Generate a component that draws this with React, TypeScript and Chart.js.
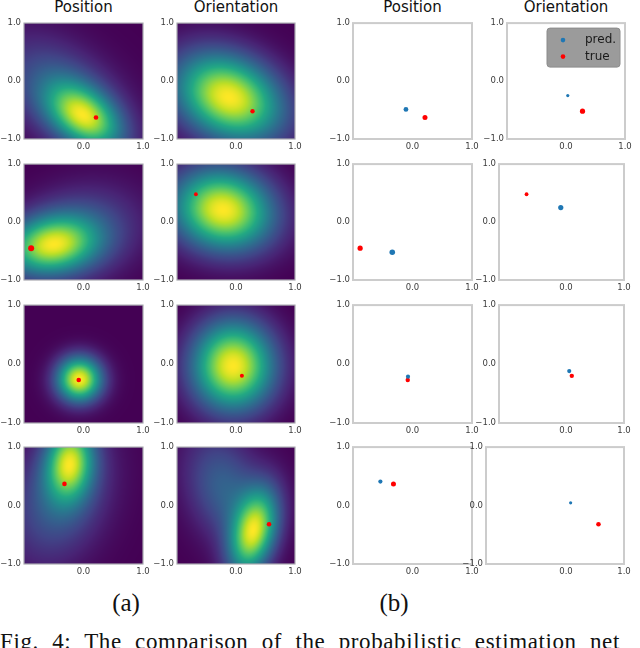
import React, { useEffect, useRef } from "react";
import { Chart, registerables } from "chart.js";
Chart.register(...registerables);

// ---------- data ----------
const COLUMN_TITLES = ["Position", "Orientation", "Position", "Orientation"];
const SUB_CAPTIONS = ["(a)", "(b)"];
const FIG_CAPTION = "Fig. 4: The comparison of the probabilistic estimation net";
const LEGEND_LABELS = ["pred.", "true"];
const TICK_VALUES = [-1, 0, 1];

// ground truth per row (position / orientation)
const TRUE_POS_X = [0.21, -0.88, -0.08, -0.32];
const TRUE_POS_Y = [-0.63, -0.45, -0.27, 0.37];
const TRUE_ORI_X = [0.28, -0.68, 0.1, 0.56];
const TRUE_ORI_Y = [-0.52, 0.48, -0.2, -0.32];
// predictions per row
const PRED_POS_X = [-0.11, -0.34, -0.076, -0.54];
const PRED_POS_Y = [-0.49, -0.52, -0.215, 0.41];
const PRED_ORI_X = [0.03, -0.09, 0.056, 0.08];
const PRED_ORI_Y = [-0.25, 0.25, -0.12, 0.046];

// predicted densities: mixture components [meanX, meanY, sdX, sdY, rho, weight]
const POS_DENSITY: number[][][] = [
  [[0.02, -0.62, 0.42, 0.38, -0.4, 1], [-0.35, -0.2, 0.7, 0.65, -0.45, 0.4]],
  [[-0.56, -0.4, 0.52, 0.34, 0.15, 1], [-0.1, -0.2, 0.7, 0.55, 0.2, 0.35]],
  [[-0.07, -0.26, 0.26, 0.26, 0, 1]],
  [[-0.23, 0.75, 0.27, 0.44, 0.1, 1], [-0.4, 0.15, 0.55, 0.75, 0.25, 0.4]],
];
const ORI_DENSITY: number[][][] = [
  [[-0.12, -0.28, 0.62, 0.52, -0.25, 1]],
  [[-0.22, 0.21, 0.58, 0.48, -0.1, 1]],
  [[-0.05, -0.03, 0.48, 0.52, 0, 1]],
  [[0.3, -0.45, 0.28, 0.5, 0.35, 1], [-0.2, 0.3, 0.45, 0.65, -0.25, 0.35]],
];

// ---------- layout / style ----------
const ROW_TOP = [22, 163, 304, 446];
const ROW_BOTTOM = [139, 280, 423, 564];
const COL_LEFT = [24, 177, 353];
const COL_RIGHT = [143, 295, 472];
const COL4_LEFT = [507, 499, 499, 486];
const COL4_RIGHT = [625, 624, 624, 624];
const COL4_XMIN = [-1, -1.155, -1.155, -1.379];
const PRED_R = [[2.4, 1.6], [2.8, 2.6], [2.1, 2.1], [2.1, 1.6]];
const TRUE_R = [[2.5, 2.6], [2.6, 1.9], [2.2, 2.2], [2.5, 2.3]];
const HEAT_TRUE_R = [[2.3, 2.2], [3.0, 1.9], [2.3, 2.0], [2.3, 2.3]];

const ML = 30, MB = 14, MT = 7, MR = 10;
const BLUE = "#1f77b4";
const RED = "#ff0000";
const VIRIDIS = ["#440154", "#482475", "#414487", "#355f8d", "#2a788e", "#21918c", "#22a884", "#44bf70", "#7ad151", "#bddf26", "#fde725"];
const VIR_RGB = VIRIDIS.map((h) => [parseInt(h.slice(1, 3), 16), parseInt(h.slice(3, 5), 16), parseInt(h.slice(5, 7), 16)]);

function viridis(t: number) {
  const c = Math.max(0, Math.min(1, t)) * (VIR_RGB.length - 1);
  const i = Math.min(VIR_RGB.length - 2, Math.floor(c));
  const f = c - i;
  const a = VIR_RGB[i], b = VIR_RGB[i + 1];
  return [a[0] + (b[0] - a[0]) * f, a[1] + (b[1] - a[1]) * f, a[2] + (b[2] - a[2]) * f];
}

function density(comps: number[][], x: number, y: number) {
  let s = 0;
  for (const [mx, my, sx, sy, r, w] of comps) {
    const u = (x - mx) / sx, v = (y - my) / sy;
    const q = (u * u + v * v - 2 * r * u * v) / (1 - r * r);
    s += w * Math.exp(-0.5 * q);
  }
  return s;
}

const fmt = (v: number) => (v < 0 ? "\u2212" : "") + Math.abs(v).toFixed(1);

type PanelSpec = { row: number; col: number };

function Panel({ row, col }: PanelSpec) {
  const ref = useRef<HTMLCanvasElement>(null);
  const left = col < 3 ? COL_LEFT[col] : COL4_LEFT[row];
  const right = col < 3 ? COL_RIGHT[col] : COL4_RIGHT[row];
  const top = ROW_TOP[row];
  const bottom = ROW_BOTTOM[row];
  const W = right - left + ML + MR;
  const H = bottom - top + MT + MB;
  const isHeat = col < 2;
  const isPos = col % 2 === 0;

  useEffect(() => {
    const xmin = col === 3 ? COL4_XMIN[row] : -1;
    const trueX = isPos ? TRUE_POS_X[row] : TRUE_ORI_X[row];
    const trueY = isPos ? TRUE_POS_Y[row] : TRUE_ORI_Y[row];
    const predX = isPos ? PRED_POS_X[row] : PRED_ORI_X[row];
    const predY = isPos ? PRED_POS_Y[row] : PRED_ORI_Y[row];
    const comps = isPos ? POS_DENSITY[row] : ORI_DENSITY[row];
    const ci = col % 2;

    const datasets: any[] = [];
    if (!isHeat) {
      datasets.push({ label: LEGEND_LABELS[0], data: [{ x: predX, y: predY }], backgroundColor: BLUE, borderWidth: 0, pointRadius: PRED_R[row][ci] });
      datasets.push({ label: LEGEND_LABELS[1], data: [{ x: trueX, y: trueY }], backgroundColor: RED, borderWidth: 0, pointRadius: TRUE_R[row][ci] });
    } else {
      datasets.push({ label: LEGEND_LABELS[1], data: [{ x: trueX, y: trueY }], backgroundColor: RED, borderWidth: 0, pointRadius: HEAT_TRUE_R[row][ci] });
    }

    const panelPlugin = {
      id: "panelBg",
      beforeDatasetsDraw(chart: any) {
        const { ctx, chartArea } = chart;
        const { left: l, top: t, right: r, bottom: b } = chartArea;
        if (isHeat) {
          const w = Math.round(r - l), h = Math.round(b - t);
          const xs = chart.scales.x, ys = chart.scales.y;
          const vals = new Float32Array(w * h);
          let mn = Infinity, mx = -Infinity;
          for (let j = 0; j < h; j++) {
            const yv = ys.getValueForPixel(t + j + 0.5);
            for (let i = 0; i < w; i++) {
              const xv = xs.getValueForPixel(l + i + 0.5);
              const d = density(comps, xv, yv);
              vals[j * w + i] = d;
              if (d < mn) mn = d;
              if (d > mx) mx = d;
            }
          }
          const off = document.createElement("canvas");
          off.width = w; off.height = h;
          const octx = off.getContext("2d")!;
          const img = octx.createImageData(w, h);
          for (let k = 0; k < w * h; k++) {
            const c = viridis((vals[k] - mn) / (mx - mn));
            img.data[k * 4] = c[0]; img.data[k * 4 + 1] = c[1]; img.data[k * 4 + 2] = c[2]; img.data[k * 4 + 3] = 255;
          }
          octx.putImageData(img, 0, 0);
          ctx.drawImage(off, l, t);
        }
        ctx.save();
        ctx.strokeStyle = isHeat ? "#a8a8b0" : "#cccccc";
        ctx.lineWidth = isHeat ? 1.2 : 2;
        ctx.strokeRect(l, t, r - l, b - t);
        ctx.restore();
      },
      afterDatasetsDraw(chart: any) {
        if (!(row === 0 && col === 3)) return;
        const { ctx, chartArea } = chart;
        const lw = 73, lh = 39;
        const lx = chartArea.right - 5 - lw, ly = chartArea.top + 5;
        ctx.save();
        ctx.fillStyle = "#9b9b9b";
        ctx.strokeStyle = "#8c8c8c";
        ctx.lineWidth = 1;
        ctx.beginPath();
        ctx.roundRect(lx, ly, lw, lh, 3);
        ctx.fill();
        ctx.stroke();
        chart.data.datasets.forEach((ds: any, i: number) => {
          const cy = ly + 12 + i * 16.5;
          ctx.fillStyle = ds.backgroundColor;
          ctx.beginPath();
          ctx.arc(lx + 16, cy, 2.3, 0, Math.PI * 2);
          ctx.fill();
          ctx.fillStyle = "#1a1a1a";
          ctx.font = "12px 'DejaVu Sans'";
          ctx.textBaseline = "middle";
          ctx.fillText(ds.label, lx + 38, cy);
        });
        ctx.restore();
      },
    };

    const tickFont = { family: "'DejaVu Sans'", size: 8.5 };
    const chart = new Chart(ref.current!, {
      type: "scatter",
      data: { datasets },
      options: {
        animation: false,
        responsive: false,
        devicePixelRatio: 1,
        layout: { padding: { top: MT, right: MR, left: 0, bottom: 0 } },
        plugins: { legend: { display: false }, tooltip: { enabled: false } },
        scales: {
          x: {
            type: "linear", min: xmin, max: 1,
            grid: { display: false, drawTicks: false }, border: { display: false },
            ticks: { font: tickFont, color: "#3c3c3c", padding: 3, maxRotation: 0, autoSkip: false,
              callback: (v: any) => (v === -1 ? "" : fmt(v)) },
            afterBuildTicks: (s: any) => { s.ticks = TICK_VALUES.map((v) => ({ value: v })); },
            afterFit: (s: any) => { s.height = MB; },
          },
          y: {
            type: "linear", min: -1, max: 1,
            grid: { display: false, drawTicks: false }, border: { display: false },
            ticks: { font: tickFont, color: "#3c3c3c", padding: 3, autoSkip: false, callback: (v: any) => fmt(v) },
            afterBuildTicks: (s: any) => { s.ticks = TICK_VALUES.map((v) => ({ value: v })); },
            afterFit: (s: any) => { s.width = ML; },
          },
        },
      } as any,
      plugins: [panelPlugin],
    });
    return () => chart.destroy();
  }, []);

  return (
    <canvas
      ref={ref}
      width={W}
      height={H}
      style={{ position: "absolute", left: left - ML, top: top - MT, width: W, height: H, display: "block" }}
    />
  );
}

export default function App() {
  const panels: PanelSpec[] = [];
  for (let r = 0; r < 4; r++) for (let c = 0; c < 4; c++) panels.push({ row: r, col: c });
  const colCenters = [0, 1, 2, 3].map((c) => (c < 3 ? (COL_LEFT[c] + COL_RIGHT[c]) / 2 : (COL4_LEFT[0] + COL4_RIGHT[0]) / 2));
  return (
    <div style={{ position: "absolute", left: 0, top: 0, width: 640, height: 648, overflow: "hidden", background: "#fff" }}>
      {COLUMN_TITLES.map((t, i) => (
        <div key={"t" + i} style={{ position: "absolute", left: colCenters[i] - 70, width: 140, top: 0, textAlign: "center",
          fontFamily: "'DejaVu Sans'", fontSize: 15, lineHeight: "15px", color: "#111", whiteSpace: "nowrap" }}>{t}</div>
      ))}
      {panels.map((p) => <Panel key={p.row + "-" + p.col} row={p.row} col={p.col} />)}
      {SUB_CAPTIONS.map((t, i) => (
        <div key={"s" + i} style={{ position: "absolute", left: (i === 0 ? 126 : 394) - 40, width: 80, top: 590, textAlign: "center",
          fontFamily: "'Liberation Serif'", fontSize: 25, lineHeight: "25px", color: "#111" }}>{t}</div>
      ))}
      <div style={{ position: "absolute", left: 0, top: 630, whiteSpace: "nowrap", fontFamily: "'Liberation Serif'", fontSize: 23,
        lineHeight: "23px", color: "#111", wordSpacing: 7, letterSpacing: 0.6 }}>{FIG_CAPTION}</div>
    </div>
  );
}
